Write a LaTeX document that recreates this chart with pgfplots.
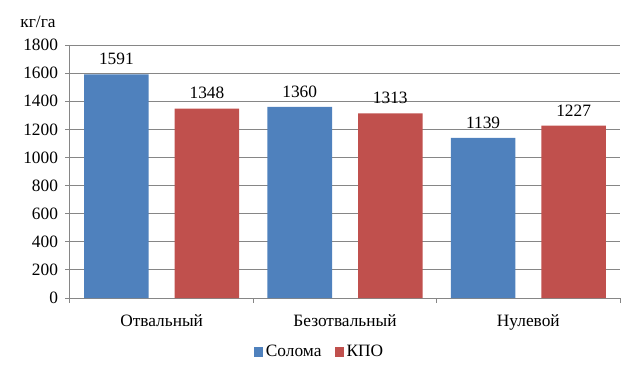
\documentclass[border=0pt]{standalone}
\usepackage{fontspec}
\setmainfont{Liberation Serif}
\usepackage{pgfplots}
\pgfplotsset{compat=1.18}
\definecolor{cblue}{HTML}{4F81BD}
\definecolor{cred}{HTML}{C0504D}
\definecolor{cgrid}{HTML}{868686}
\begin{document}
\begin{tikzpicture}[x=0.75pt,y=0.75pt]
\useasboundingbox (-70,-84) rectangle (571,298);
\begin{axis}[
  at={(0,0)}, anchor=south west,
  scale only axis, width=412.5pt, height=189.75pt,
  ybar=19.5pt, bar width=48.4pt,
  xmin=-0.5, xmax=2.5, ymin=0, ymax=1800,
  ytick={0,200,...,1800},
  xtick={-0.5,0.5,1.5,2.5}, xticklabels={},
  extra x ticks={0,1,2},
  extra x tick labels={Отвальный,Безотвальный,Нулевой},
  extra x tick style={major tick length=0pt, grid=none,
     xticklabel style={yshift=-9pt}},
  axis lines*=left,
  axis line style={cgrid, line width=0.75pt},
  tick style={cgrid, line width=0.75pt},
  tick align=outside, major tick length=3.5pt,
  ymajorgrids, grid style={cgrid, line width=0.75pt},
  tick label style={font=\fontsize{13}{15}\selectfont, black},
  yticklabel style={xshift=-2pt},
  /pgf/number format/assume math mode=true,
  /pgf/number format/1000 sep={},
  nodes near coords,
  nodes near coords style={font=\fontsize{13}{15}\selectfont, black, yshift=3.5pt},
  legend style={at={(0.4545,-0.2134)}, anchor=center, draw=none,
    legend columns=2, font=\fontsize{13}{15}\selectfont,
    /tikz/every even column/.append style={column sep=8pt}},
  legend image code/.code={\fill[#1] (0pt,-3.4pt) rectangle (6.8pt,3.4pt);},
]
\addplot[fill=cblue, draw=none] coordinates {(0,1591) (1,1360) (2,1139)};
\addplot[fill=cred, draw=none] coordinates {(0,1348) (1,1313) (2,1227)};
\legend{Солома,КПО}
\end{axis}
\node[font=\fontsize{13}{15}\selectfont] at (-32,276) {кг/га};
\end{tikzpicture}
\end{document}
